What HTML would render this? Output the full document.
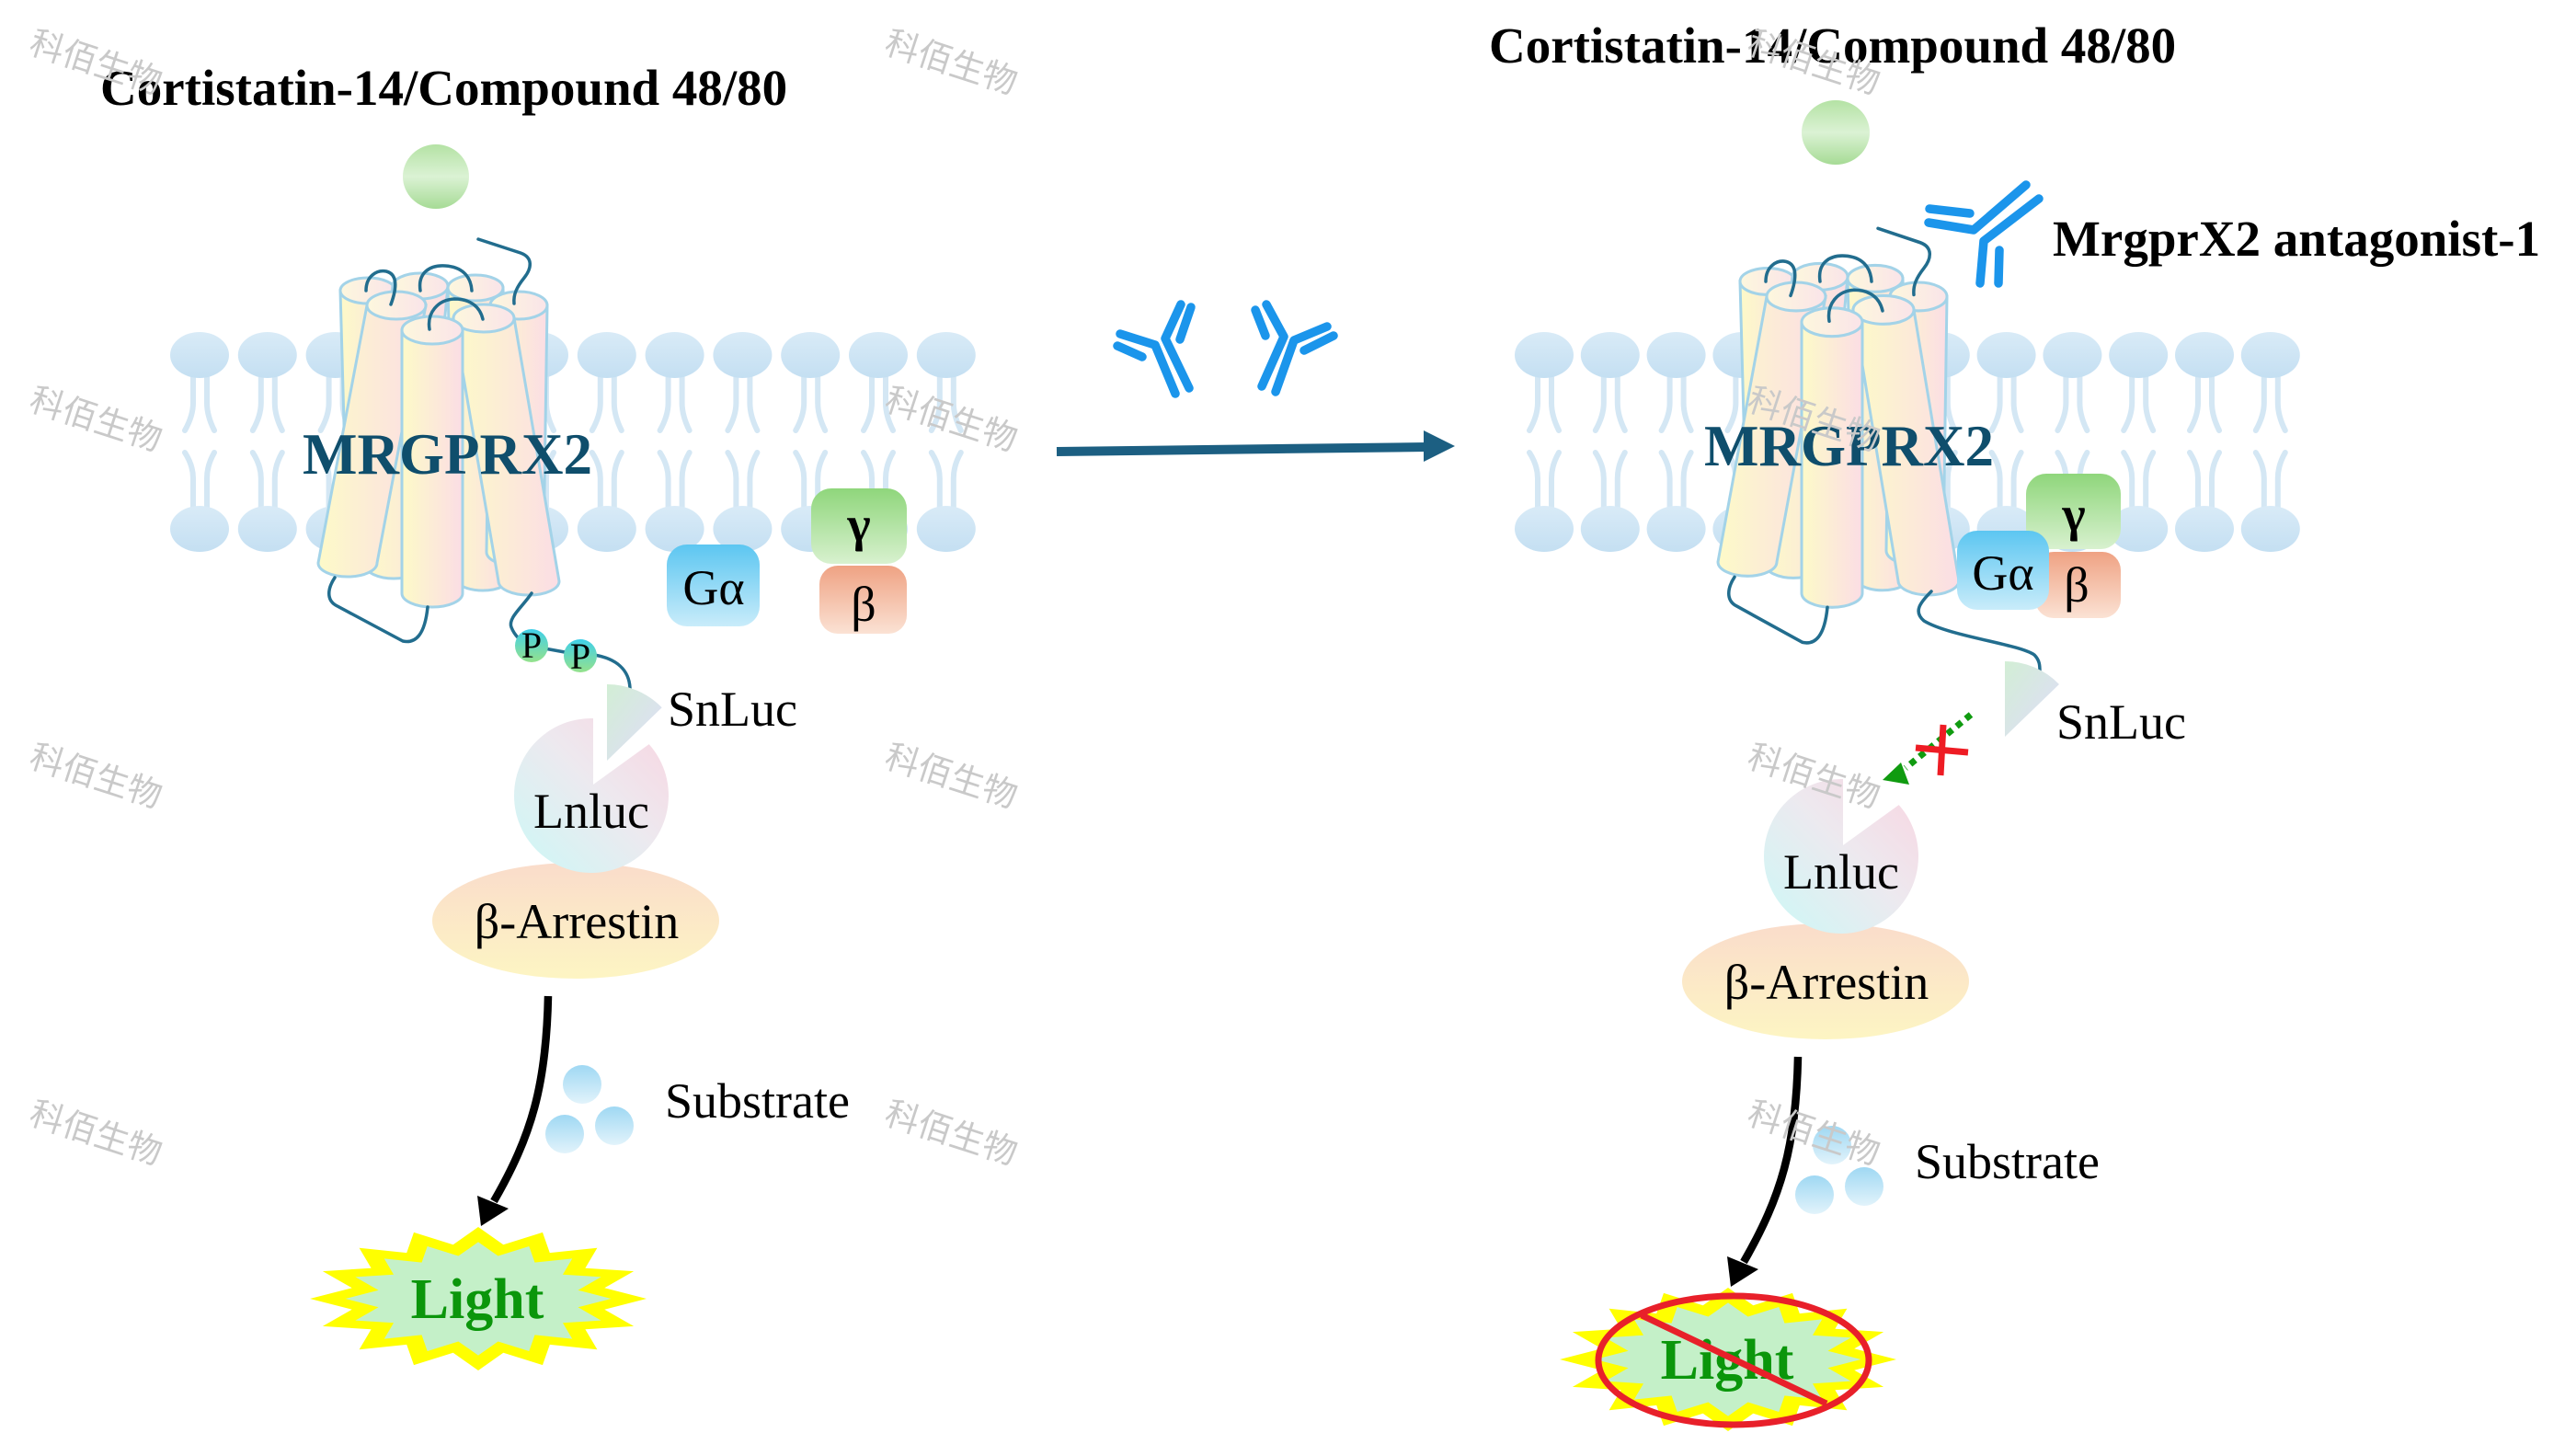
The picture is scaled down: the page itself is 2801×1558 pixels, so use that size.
<!DOCTYPE html>
<html><head><meta charset="utf-8"><title>MRGPRX2 NanoBiT assay</title>
<style>
html,body{margin:0;padding:0;background:#fff;}
svg{display:block;}
text{font-family:"Liberation Serif","Times New Roman",serif;}
.wm{font-family:"Liberation Sans","Noto Sans CJK SC",sans-serif;font-size:37px;fill:#c9c9c9;font-weight:300;}
.t54{font-size:54px;fill:#000;}
.bold{font-weight:bold;}
</style></head><body>
<svg width="2801" height="1558" viewBox="0 0 2801 1558" xmlns="http://www.w3.org/2000/svg">
<defs>
 <linearGradient id="gCyl" x1="0" y1="0" x2="1" y2="0"><stop offset="0" stop-color="#fdfac8"/><stop offset="1" stop-color="#fbdde5"/></linearGradient>
 <linearGradient id="gTop" x1="0" y1="0" x2="1" y2="0"><stop offset="0" stop-color="#fdf7dd"/><stop offset="1" stop-color="#fae4e9"/></linearGradient>
 <linearGradient id="gHead" x1="0" y1="0" x2="0" y2="1"><stop offset="0" stop-color="#d9ebf7"/><stop offset="1" stop-color="#c4dff2"/></linearGradient>
 <linearGradient id="gLig" x1="0" y1="0" x2="0" y2="1"><stop offset="0" stop-color="#b4e2a4"/><stop offset="0.5" stop-color="#dbf2d4"/><stop offset="1" stop-color="#a6db95"/></linearGradient>
 <linearGradient id="gGa" x1="0" y1="0" x2="0" y2="1"><stop offset="0" stop-color="#5cc6f1"/><stop offset="1" stop-color="#c9ecfa"/></linearGradient>
 <linearGradient id="gGg" x1="0" y1="0" x2="0" y2="1"><stop offset="0" stop-color="#8fd67b"/><stop offset="1" stop-color="#d8f1cf"/></linearGradient>
 <linearGradient id="gGb" x1="0" y1="0" x2="0" y2="1"><stop offset="0" stop-color="#efa283"/><stop offset="1" stop-color="#fbe2d4"/></linearGradient>
 <linearGradient id="gP" x1="0" y1="0" x2="0" y2="1"><stop offset="0" stop-color="#3fcfe9"/><stop offset="1" stop-color="#95e28c"/></linearGradient>
 <linearGradient id="gSn" x1="0" y1="0" x2="1" y2="1"><stop offset="0" stop-color="#d2eed5"/><stop offset="1" stop-color="#e0dcfa"/></linearGradient>
 <linearGradient id="gLn" x1="0" y1="1" x2="1" y2="0"><stop offset="0" stop-color="#ccf8f6"/><stop offset="0.55" stop-color="#ede9ef"/><stop offset="1" stop-color="#f9d5e1"/></linearGradient>
 <linearGradient id="gArr" x1="0" y1="0" x2="0" y2="1"><stop offset="0" stop-color="#fadccb"/><stop offset="1" stop-color="#fdf5c3"/></linearGradient>
 <linearGradient id="gSub" x1="0" y1="0" x2="0" y2="1"><stop offset="0" stop-color="#9fd8f3"/><stop offset="1" stop-color="#e2f3fb"/></linearGradient>

 <g id="lp">
  <path d="M-7,410 V438 Q-7,452 -16,468 M8,410 V438 Q8,452 16,468 M-16,492 Q-7,506 -7,520 V552 M16,492 Q8,506 8,520 V552" fill="none" stroke="#d4e7f4" stroke-width="6" stroke-linecap="round"/>
  <ellipse cx="0" cy="386" rx="32" ry="25" fill="url(#gHead)"/>
  <ellipse cx="0" cy="575" rx="32" ry="25" fill="url(#gHead)"/>
 </g>

 <g id="rec">
  <g stroke="#a3d3e8" stroke-width="3">
   <path d="M370,316 L378,605 A30,14 0 0 0 438,605 L430,316 Z" fill="url(#gCyl)"/>
   <ellipse cx="400" cy="316" rx="30" ry="14" fill="url(#gTop)"/>
   <path d="M427,311 L398,615 A30,14 0 0 0 458,615 L487,311 Z" fill="url(#gCyl)"/>
   <ellipse cx="457" cy="311" rx="30" ry="14" fill="url(#gTop)"/>
   <path d="M487,313 L495,628 A30,14 0 0 0 555,628 L547,313 Z" fill="url(#gCyl)"/>
   <ellipse cx="517" cy="313" rx="30" ry="14" fill="url(#gTop)"/>
   <path d="M533,332 L529,600 A31,15 0 0 0 591,600 L595,332 Z" fill="url(#gCyl)"/>
   <ellipse cx="564" cy="332" rx="31" ry="15" fill="url(#gTop)"/>
   <path d="M399,332 L346,612 A32,15 0 0 0 410,612 L463,332 Z" fill="url(#gCyl)"/>
   <ellipse cx="431" cy="332" rx="32" ry="15" fill="url(#gTop)"/>
   <path d="M493,346 L542,632 A33,15 0 0 0 608,632 L559,346 Z" fill="url(#gCyl)"/>
   <ellipse cx="526" cy="346" rx="33" ry="15" fill="url(#gTop)"/>
   <path d="M437,359 L437,645 A33,15 0 0 0 503,645 L503,359 Z" fill="url(#gCyl)"/>
   <ellipse cx="470" cy="359" rx="33" ry="15" fill="url(#gTop)"/>
  </g>
  <g fill="none" stroke="#226d8e" stroke-width="3.5" stroke-linecap="round">
   <path d="M520,260 L566,275 C580,280 578,292 570,302 C562,312 558,320 559,330"/>
   <path d="M398,316 C398,300 410,293 420,295 C432,298 432,312 425,331"/>
   <path d="M457,316 C454,296 468,288 484,289 C502,290 512,300 513,316"/>
   <path d="M467,358 C464,340 476,326 494,325 C512,325 522,334 525,347"/>
   <path d="M364,628 C356,640 355,652 365,658 L438,697 C452,700 462,690 465,660"/>
  </g>
 </g>

 <g id="low">
  <ellipse cx="626" cy="1001" rx="156" ry="63" fill="url(#gArr)"/>
  <path d="M645,853 L645,781 A84,84 0 1 0 705.7,809.1 Z" fill="url(#gLn)"/>
  <path d="M596,1083 C594,1180 578,1235 537,1306" fill="none" stroke="#000" stroke-width="8.5"/>
  <polygon points="519,1300 553,1314 523,1333" fill="#000"/>
  <circle cx="633" cy="1179" r="21" fill="url(#gSub)"/>
  <circle cx="614" cy="1233" r="21" fill="url(#gSub)"/>
  <circle cx="668" cy="1224" r="21" fill="url(#gSub)"/>
  <g transform="translate(520,1412)">
   <polygon fill="#ffff00" points="183,0 137.3,11.7 169.1,29.9 116.4,33.3 129.4,55.2 77.8,49.9 70,72.1 27.3,58.8 0,78 -27.3,58.8 -70,72.1 -77.8,49.9 -129.4,55.2 -116.4,33.3 -169.1,29.9 -137.3,11.7 -183,0 -137.3,-11.7 -169.1,-29.9 -116.4,-33.3 -129.4,-55.2 -77.8,-49.9 -70,-72.1 -27.3,-58.8 0,-78 27.3,-58.8 70,-72.1 77.8,-49.9 129.4,-55.2 116.4,-33.3 169.1,-29.9 137.3,-11.7"/>
   <polygon fill="#c4f0c8" transform="scale(0.79)" points="183,0 137.3,11.7 169.1,29.9 116.4,33.3 129.4,55.2 77.8,49.9 70,72.1 27.3,58.8 0,78 -27.3,58.8 -70,72.1 -77.8,49.9 -129.4,55.2 -116.4,33.3 -169.1,29.9 -137.3,11.7 -183,0 -137.3,-11.7 -169.1,-29.9 -116.4,-33.3 -129.4,-55.2 -77.8,-49.9 -70,-72.1 -27.3,-58.8 0,-78 27.3,-58.8 70,-72.1 77.8,-49.9 129.4,-55.2 116.4,-33.3 169.1,-29.9 137.3,-11.7"/>
  </g>
 </g>
</defs>

<rect x="0" y="0" width="2801" height="1558" fill="#fff"/>

<!-- membranes -->
<use href="#lp" x="217"/><use href="#lp" x="290.8"/><use href="#lp" x="364.6"/><use href="#lp" x="438.4"/>
<use href="#lp" x="512.2"/><use href="#lp" x="586"/><use href="#lp" x="659.8"/><use href="#lp" x="733.6"/>
<use href="#lp" x="807.4"/><use href="#lp" x="881.2"/><use href="#lp" x="955"/><use href="#lp" x="1028.8"/>

<use href="#lp" x="1679"/><use href="#lp" x="1750.8"/><use href="#lp" x="1822.6"/><use href="#lp" x="1894.4"/>
<use href="#lp" x="1966.2"/><use href="#lp" x="2038"/><use href="#lp" x="2109.8"/><use href="#lp" x="2181.6"/>
<use href="#lp" x="2253.4"/><use href="#lp" x="2325.2"/><use href="#lp" x="2397"/><use href="#lp" x="2468.8"/>

<!-- ligands -->
<ellipse cx="474" cy="192" rx="36" ry="35" fill="url(#gLig)"/>
<ellipse cx="1996" cy="144" rx="37" ry="35" fill="url(#gLig)"/>

<!-- receptors -->
<use href="#rec"/>
<use href="#rec" transform="translate(1522,650) scale(1,1.03) translate(0,-650)"/>

<!-- C-termini -->
<g fill="none" stroke="#226d8e" stroke-width="3.5" stroke-linecap="round">
 <path d="M578,645 C568,660 552,672 556,682 C560,692 566,696 572,700"/>
 <path d="M592,705 L614,709"/>
 <path d="M646,712 C670,716 684,728 685,748"/>
 <path d="M2100,643 C2088,655 2080,665 2092,675 C2120,692 2195,700 2212,712 C2218,718 2218,724 2218,730"/>
</g>

<!-- MRGPRX2 labels -->
<text x="329" y="515" font-size="63" font-weight="bold" fill="#0f4e6c">MRGPRX2</text>
<text x="1853" y="506" font-size="63" font-weight="bold" fill="#0f4e6c">MRGPRX2</text>

<!-- G proteins left -->
<rect x="725" y="592" width="101" height="89" rx="22" fill="url(#gGa)"/>
<rect x="891" y="615" width="95" height="74" rx="20" fill="url(#gGb)"/>
<rect x="882" y="531" width="104" height="82" rx="22" fill="url(#gGg)"/>
<text class="t54" x="776" y="657" text-anchor="middle">Gα</text>
<text class="t54 bold" x="934" y="588" text-anchor="middle">γ</text>
<text class="t54" x="939" y="675" text-anchor="middle">β</text>

<!-- G proteins right -->
<rect x="2213" y="600" width="93" height="72" rx="20" fill="url(#gGb)"/>
<rect x="2203" y="515" width="103" height="82" rx="22" fill="url(#gGg)"/>
<rect x="2128" y="577" width="100" height="86" rx="22" fill="url(#gGa)"/>
<text class="t54" x="2178" y="641" text-anchor="middle">Gα</text>
<text class="t54 bold" x="2255" y="577" text-anchor="middle">γ</text>
<text class="t54" x="2258" y="654" text-anchor="middle">β</text>

<!-- phosphates -->
<circle cx="578" cy="702" r="18" fill="url(#gP)"/>
<circle cx="631" cy="713" r="18" fill="url(#gP)"/>
<text x="578" y="715" font-size="40" text-anchor="middle" fill="#000">P</text>
<text x="631" y="727" font-size="40" text-anchor="middle" fill="#000">P</text>

<!-- SnLuc -->
<path d="M660,827 L660,744 A83,83 0 0 1 719.7,769.3 Z" fill="url(#gSn)"/>
<text class="t54" x="726" y="789">SnLuc</text>
<path d="M2180,801 L2180,719 A82,82 0 0 1 2239,744 Z" fill="url(#gSn)"/>
<text class="t54" x="2236" y="803">SnLuc</text>

<!-- lower parts -->
<use href="#low"/>
<use href="#low" transform="translate(1359,66)"/>

<text class="t54" x="643" y="900" text-anchor="middle">Lnluc</text>
<text class="t54" x="627" y="1020" text-anchor="middle">β-Arrestin</text>
<text class="t54" x="723" y="1215">Substrate</text>
<text x="519" y="1433" font-size="62" font-weight="bold" fill="#0b960b" text-anchor="middle">Light</text>

<text class="t54" x="2002" y="966" text-anchor="middle">Lnluc</text>
<text class="t54" x="1986" y="1086" text-anchor="middle">β-Arrestin</text>
<text class="t54" x="2082" y="1281">Substrate</text>
<text x="1878" y="1499" font-size="62" font-weight="bold" fill="#0b960b" text-anchor="middle">Light</text>

<!-- no light marker -->
<ellipse cx="1885" cy="1479" rx="147" ry="70" fill="none" stroke="#e8202a" stroke-width="7"/>
<line x1="1785" y1="1430" x2="1986" y2="1526" stroke="#e8202a" stroke-width="7"/>

<!-- blocked green dotted arrow -->
<line x1="2143" y1="777" x2="2072" y2="835" stroke="#109b10" stroke-width="7" stroke-dasharray="7 6"/>
<polygon points="2047,848 2067,829 2076,853" fill="#109b10"/>
<line x1="2113" y1="788" x2="2110" y2="843" stroke="#ee1c24" stroke-width="7"/>
<line x1="2083" y1="813" x2="2140" y2="818" stroke="#ee1c24" stroke-width="7"/>

<!-- antibodies -->
<g fill="none" stroke="#1b95eb" stroke-width="9.5" stroke-linecap="round" stroke-linejoin="round">
 <polyline points="1218,363 1256,375 1278,428"/>
 <polyline points="1284,331 1267,368 1293,422"/>
 <line x1="1215" y1="376" x2="1242" y2="388"/>
 <line x1="1283" y1="369" x2="1295" y2="334"/>
 <polyline points="1377,331 1396,366 1372,420"/>
 <polyline points="1443,355 1407,370 1387,426"/>
 <line x1="1365" y1="337" x2="1376" y2="365"/>
 <line x1="1418" y1="381" x2="1450" y2="365"/>
 <polyline points="2097,242 2146,250 2203,201"/>
 <polyline points="2217,216 2157,262 2153,308"/>
 <line x1="2098" y1="227" x2="2142" y2="232"/>
 <line x1="2174" y1="272" x2="2173" y2="308"/>
</g>

<!-- main arrow -->
<line x1="1149" y1="491" x2="1552" y2="486" stroke="#1c5f82" stroke-width="10"/>
<polygon points="1548,468 1582,485 1548,502" fill="#1c5f82"/>

<!-- titles -->
<text x="109" y="114" font-size="55" font-weight="bold" fill="#000">Cortistatin-14/Compound 48/80</text>
<text x="1619" y="68" font-size="55" font-weight="bold" fill="#000">Cortistatin-14/Compound 48/80</text>
<text x="2232" y="278" font-size="55" font-weight="bold" fill="#000">MrgprX2 antagonist-1</text>

<!-- watermarks -->
<g class="wm">
 <text x="30" y="57" transform="rotate(18 30 57)">科佰生物</text>
 <text x="30" y="445" transform="rotate(18 30 445)">科佰生物</text>
 <text x="30" y="833" transform="rotate(18 30 833)">科佰生物</text>
 <text x="30" y="1221" transform="rotate(18 30 1221)">科佰生物</text>
 <text x="960" y="57" transform="rotate(18 960 57)">科佰生物</text>
 <text x="960" y="445" transform="rotate(18 960 445)">科佰生物</text>
 <text x="960" y="833" transform="rotate(18 960 833)">科佰生物</text>
 <text x="960" y="1221" transform="rotate(18 960 1221)">科佰生物</text>
 <text x="1898" y="57" transform="rotate(18 1898 57)">科佰生物</text>
 <text x="1898" y="445" transform="rotate(18 1898 445)">科佰生物</text>
 <text x="1898" y="833" transform="rotate(18 1898 833)">科佰生物</text>
 <text x="1898" y="1221" transform="rotate(18 1898 1221)">科佰生物</text>
</g>
</svg>
</body></html>
